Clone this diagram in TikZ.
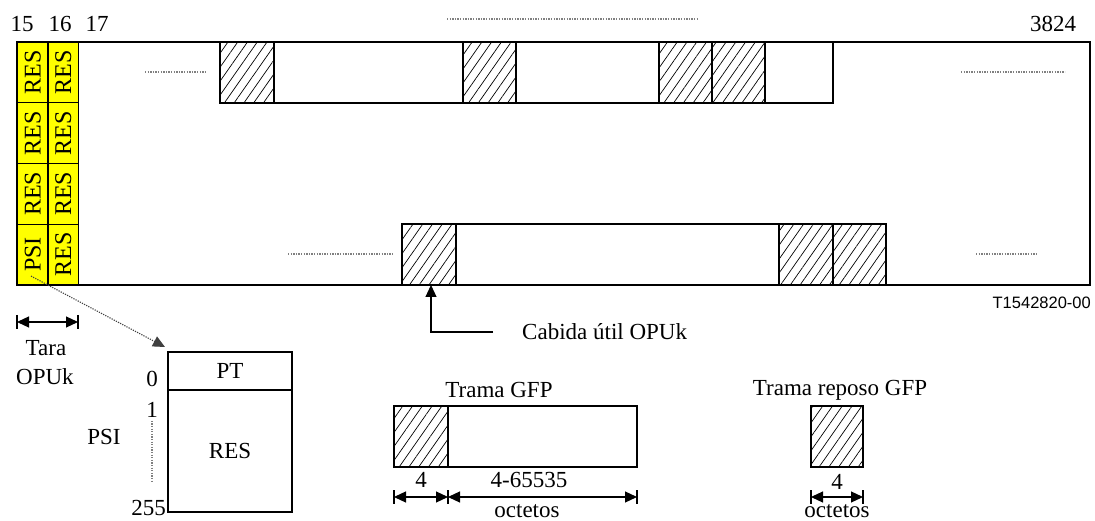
\documentclass[tikz,border=0pt]{standalone}
\usepackage{fontspec}
\setmainfont{Liberation Serif}
\newfontfamily\figsans{Liberation Sans}
\usetikzlibrary{arrows.meta, patterns.meta, positioning}
\definecolor{opuyellow}{RGB}{255, 255, 0}

\tikzset{
  txt/.style={font=\fontsize{23}{26}\selectfont, inner sep=0pt},
  hatchbox/.style={draw, line width=1.2pt, pattern={Lines[angle=55, distance=8pt, line width=0.7pt]}, inner sep=0pt, outer sep=0pt, minimum height=61pt},
  plainbox/.style={draw, line width=1.2pt, fill=white, inner sep=0pt, outer sep=0pt, minimum height=61pt},
  cell/.style={txt, font=\fontsize{24}{26}\selectfont, draw, line width=1.2pt, fill=opuyellow, minimum width=30.5pt, minimum height=60.75pt, outer sep=0pt},
  dots/.style={gray, line width=1.3pt, dash pattern=on 1.3pt off 1.3pt},
  dimline/.style={line width=1.2pt, {Triangle[length=12pt, width=11pt]}-{Triangle[length=12pt, width=11pt]}},
}

\begin{document}
\begin{tikzpicture}[x=1pt, y=-1pt]
  \useasboundingbox (0,0) rectangle (1095,521);

  % Column numbers
  \node[txt] (k15) at (22,24) {15};
  \node[txt] (k16) at (60,24) {16};
  \node[txt] (k17) at (97,24) {17};
  \node[txt] (k3824) at (1053,24) {3824};
  \draw[dots] (447,19) -- (697,19);

  % OPUk overhead columns
  \foreach \r/\y/\t in {1/72.4/RES, 2/133.1/RES, 3/193.9/RES, 4/254.6/PSI} {
    \node[cell] (a\r) at (32.75,\y) {\rotatebox{90}{\t}};
    \node[cell] (b\r) at (63.25,\y) {\rotatebox{90}{RES}};
  }

  % GFP frames, upper row
  \foreach \n/\a/\b in {u1/220/274, u3/463/516, u5/659/712, u6/712/765}
    \node[hatchbox, minimum width={(\b-\a)*1pt}] (\n) at ({(\a+\b)/2},72.5) {};
  \foreach \n/\a/\b in {u2/274/463, u4/516/659, u7/765/833}
    \node[plainbox, minimum width={(\b-\a)*1pt}] (\n) at ({(\a+\b)/2},72.5) {};

  % GFP frames, lower row
  \foreach \n/\a/\b in {l1/402/456, l3/779/833, l4/833/886}
    \node[hatchbox, minimum width={(\b-\a)*1pt}] (\n) at ({(\a+\b)/2},254.5) {};
  \node[plainbox, minimum width=323pt] (l2) at (617.5,254.5) {};

  % Payload area
  \draw[line width=1.5pt] (17,42) rectangle (1090,285);
  \draw[dots] (145,72) -- (205,72);
  \draw[dots] (961,72) -- (1065,72);
  \draw[dots] (288,254) -- (394,254);
  \draw[dots] (976,254) -- (1037,254);
  \node[font=\figsans\fontsize{16.5}{18}\selectfont, anchor=east, inner sep=0pt] (tnum) at (1091,303) {T1542820-00};

  % Payload pointer
  \node[txt, anchor=west] (cab) at (522,332) {Cabida útil OPUk};
  \draw[line width=1.2pt, -{Triangle[length=12pt, width=11pt]}] ([xshift=-29pt]cab.west) -| ([xshift=2pt]l1.south);

  % Overhead width
  \draw[dimline] (17,322) -- (78,322);
  \draw[line width=1.2pt] (17,315) -- (17,329) (78,315) -- (78,329);
  \node[txt] (tara) at (46,348) {Tara};
  \node[txt] (opuk) at (45,377) {OPUk};

  % PSI detail
  \node[txt, draw, line width=1.2pt, minimum width=124pt, minimum height=38pt, outer sep=0pt, anchor=north west] (pt) at (168,352) {PT};
  \node[txt, draw, line width=1.2pt, minimum width=124pt, minimum height=122pt, outer sep=0pt, below=0pt of pt] (psires) {RES};
  \draw[black!75, line width=1.1pt, dash pattern=on 1.2pt off 1.2pt, -{Triangle[length=12pt, width=11pt]}] ([shift={(-1.75,21.5)}]a4.center) -- ([shift={(-3,-5)}]pt.north west);
  \node[txt] (n0) at (152,379) {0};
  \node[txt] (n1) at (152,410) {1};
  \node[txt, anchor=east] (n255) at (166,508) {255};
  \draw[dots] ([yshift=-3pt]n1.south) -- ++(0,60);
  \node[txt] (psi) at (104,437) {PSI};

  % GFP frame
  \node[txt] (gfpt) at (499,390) {Trama GFP};
  \node[hatchbox, minimum width=54pt] (gfph) at (421,436.5) {};
  \node[plainbox, minimum width=189pt, right=0pt of gfph] (gfpw) {};
  \draw[dimline] ([yshift=-30pt]gfph.south west) -- ([yshift=-30pt]gfph.south east);
  \draw[dimline] ([yshift=-30pt]gfpw.south west) -- ([yshift=-30pt]gfpw.south east);
  \foreach \p in {gfph.south west, gfph.south east, gfpw.south east}
    \draw[line width=1.2pt] ([yshift=-23pt]\p) -- ([yshift=-37pt]\p);
  \node[txt] (g4) at (421,480) {4};
  \node[txt] (g65535) at (529,480) {4-65535};
  \node[txt] (goct) at (527,511) {octetos};

  % GFP idle frame
  \node[txt] (idlet) at (840,390) {Trama reposo GFP};
  \node[hatchbox, minimum width=52pt] (idle) at (837,436.5) {};
  \draw[dimline] ([yshift=-30pt]idle.south west) -- ([yshift=-30pt]idle.south east);
  \foreach \p in {idle.south west, idle.south east}
    \draw[line width=1.2pt] ([yshift=-23pt]\p) -- ([yshift=-37pt]\p);
  \node[txt] (i4) at (837,482) {4};
  \node[txt] (ioct) at (837,511) {octetos};
\end{tikzpicture}
\end{document}
